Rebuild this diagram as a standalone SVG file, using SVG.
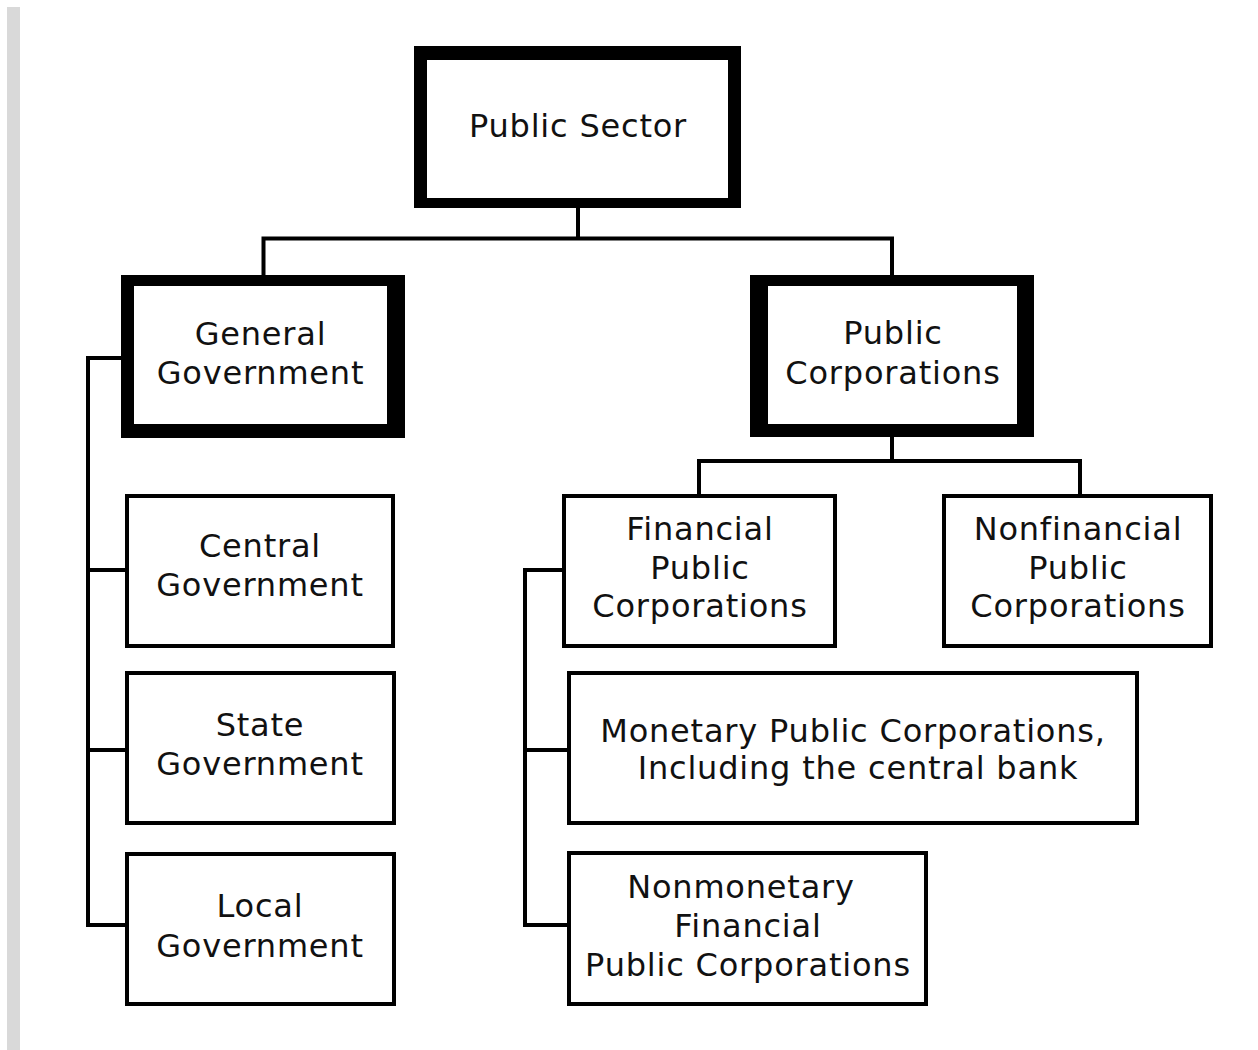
<svg xmlns="http://www.w3.org/2000/svg" width="1258" height="1050" viewBox="0 0 1258 1050">
<style>
.bg{fill:#ffffff}
.bar{fill:#d9d9d9}
.thick{fill:#000000;fill-rule:evenodd}
.box{fill:#ffffff;stroke:#000000;stroke-width:4}
.conn{fill:none;stroke:#000000;stroke-width:4;stroke-linecap:square}
.t{font-family:"DejaVu Sans","Liberation Sans",sans-serif;font-size:32px;fill:#111111;text-anchor:middle;letter-spacing:0.8px}
</style>
<rect class="bg" x="0" y="0" width="1258" height="1050"/>
<rect class="bar" x="7" y="7" width="13" height="1043"/>
<g id="connectors">
  <path class="conn" d="M578 208 V238.5 M263.5 238.5 H892 M263.5 238.5 V275 M892 238.5 V275"/>
  <path class="conn" d="M88 358 H121 M88 358 V925 M88 570 H125 M88 750 H125 M88 925 H125"/>
  <path class="conn" d="M892 437 V461 M699 461 H1080 M699 461 V494 M1080 461 V494"/>
  <path class="conn" d="M525 570 V925 M525 570 H562 M525 750 H567 M525 925 H567"/>
</g>
<g id="public-sector">
  <path class="thick" d="M414 46 H741 V208 H414 Z M427 60 V198 H728 V60 Z"/>
  <text class="t" x="578" y="137">Public Sector</text>
</g>
<g id="general-government">
  <path class="thick" d="M121 275 H405 V438 H121 Z M134 286 V424 H387 V286 Z"/>
  <text class="t" x="260.5" y="345">General</text>
  <text class="t" x="260.5" y="384">Government</text>
</g>
<g id="public-corporations">
  <path class="thick" d="M750 275 H1034 V437 H750 Z M768 286 V424 H1017 V286 Z"/>
  <text class="t" x="893" y="344">Public</text>
  <text class="t" x="893" y="384">Corporations</text>
</g>
<g id="central-government">
  <rect class="box" x="127" y="496" width="266" height="150"/>
  <text class="t" x="260" y="557">Central</text>
  <text class="t" x="260" y="596">Government</text>
</g>
<g id="state-government">
  <rect class="box" x="127" y="673" width="267" height="150"/>
  <text class="t" x="260" y="736">State</text>
  <text class="t" x="260" y="775">Government</text>
</g>
<g id="local-government">
  <rect class="box" x="127" y="854" width="267" height="150"/>
  <text class="t" x="260" y="917">Local</text>
  <text class="t" x="260" y="957">Government</text>
</g>
<g id="financial-public-corporations">
  <rect class="box" x="564" y="496" width="271" height="150"/>
  <text class="t" x="700" y="540">Financial</text>
  <text class="t" x="700" y="579">Public</text>
  <text class="t" x="700" y="617">Corporations</text>
</g>
<g id="nonfinancial-public-corporations">
  <rect class="box" x="944" y="496" width="267" height="150"/>
  <text class="t" x="1078" y="540">Nonfinancial</text>
  <text class="t" x="1078" y="579">Public</text>
  <text class="t" x="1078" y="617">Corporations</text>
</g>
<g id="monetary-public-corporations">
  <rect class="box" x="569" y="673" width="568" height="150"/>
  <text class="t" x="853" y="742">Monetary Public Corporations,</text>
  <text class="t" x="858" y="779">Including the central bank</text>
</g>
<g id="nonmonetary-financial-public-corporations">
  <rect class="box" x="569" y="853" width="357" height="151"/>
  <text class="t" x="741" y="898">Nonmonetary</text>
  <text class="t" x="748" y="937">Financial</text>
  <text class="t" x="748" y="976">Public Corporations</text>
</g>
</svg>
